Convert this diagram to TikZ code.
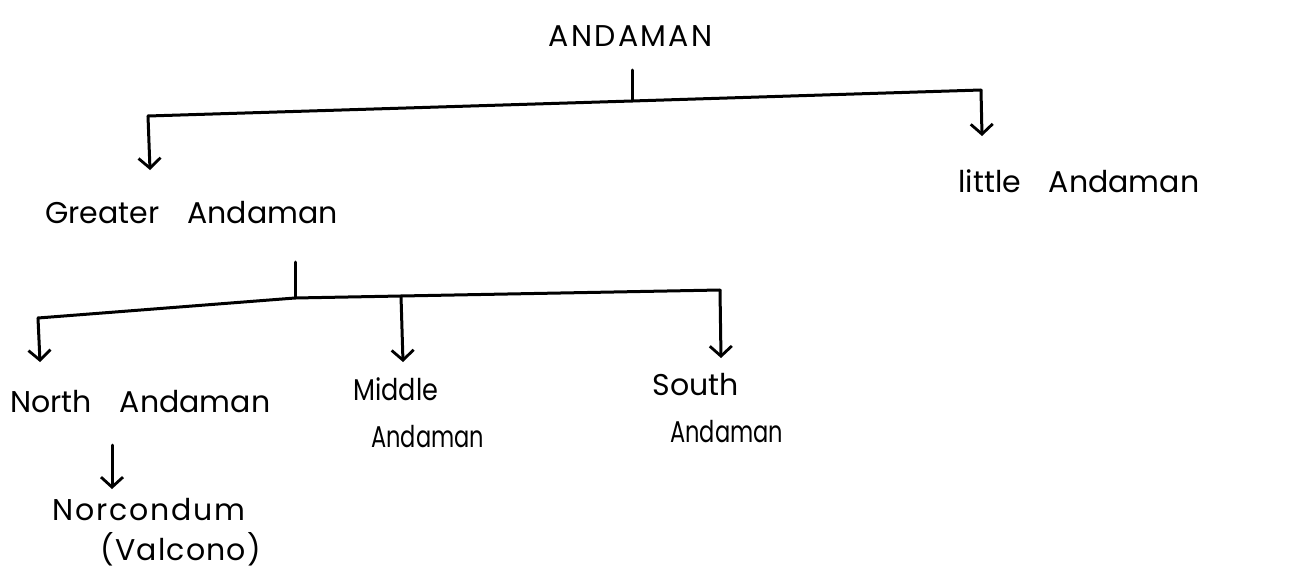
\documentclass[tikz,border=0pt]{standalone}
\usepackage{fontspec}
\setmainfont{Poppins}
\usetikzlibrary{arrows.meta}
\newcommand{\narrow}[1]{\scalebox{0.75}[1]{#1}}
\begin{document}
\begin{tikzpicture}[x=0.5pt,y=-0.5pt,
  label/.style={inner sep=0pt,anchor=west,font=\fontsize{15}{23.5}\selectfont,align=left},
  link/.style={line width=1.5pt,line cap=round,line join=round},
  down/.style={link,-{Straight Barb[length=5pt,width=11pt,line width=1.4pt]}}]
\useasboundingbox (0,0) rectangle (1290,573);

% labels
\node[label] (root) at (548,36) {\addfontfeature{LetterSpace=8}ANDAMAN};
\node[label] (greater) at (45,213) {Greater\hspace{14pt}Andaman};
\node[label] (little) at (958,181) {little\hspace{14pt}Andaman};
\node[label] (north) at (10,402) {North\hspace{14pt}Andaman};
\node[label] (middle) at (353,413) {\scalebox{0.85}[1]{Middle}\\\hspace{9pt}\narrow{Andaman}};
\node[label] (south) at (652,408) {South\\\hspace{9pt}\narrow{Andaman}};
\node[label,font=\fontsize{15}{20}\selectfont] (norc) at (52,532)
  {\addfontfeature{LetterSpace=6}Norcondum\\\hspace{24pt}\addfontfeature{LetterSpace=4}(Valcono)};

% first level
\coordinate (t1) at (632,70);
\coordinate (j1) at (632,101);
\coordinate (l1) at (148,116);
\coordinate (r1) at (981,90);
\coordinate (gin) at (150,170);
\coordinate (lin) at (982,136);
\draw[link] (t1) -- (j1);
\draw[link] (l1) -- (j1) -- (r1);
\draw[down] (l1) -- (gin);
\draw[down] (r1) -- (lin);

% second level
\coordinate (t2) at (295,262);
\coordinate (j2) at (295,298);
\coordinate (l2) at (38,318);
\coordinate (m2) at (401,296);
\coordinate (r2) at (720,290);
\coordinate (nin) at (40,362);
\coordinate (min) at (403,362);
\coordinate (sin) at (721,358);
\draw[link] (t2) -- (j2);
\draw[link] (l2) -- (j2) -- (m2) -- (r2);
\draw[down] (l2) -- (nin);
\draw[down] (m2) -- (min);
\draw[down] (r2) -- (sin);

% third level
\coordinate (t3) at (112,445);
\coordinate (nc) at (112,489);
\draw[down] (t3) -- (nc);
\end{tikzpicture}
\end{document}
